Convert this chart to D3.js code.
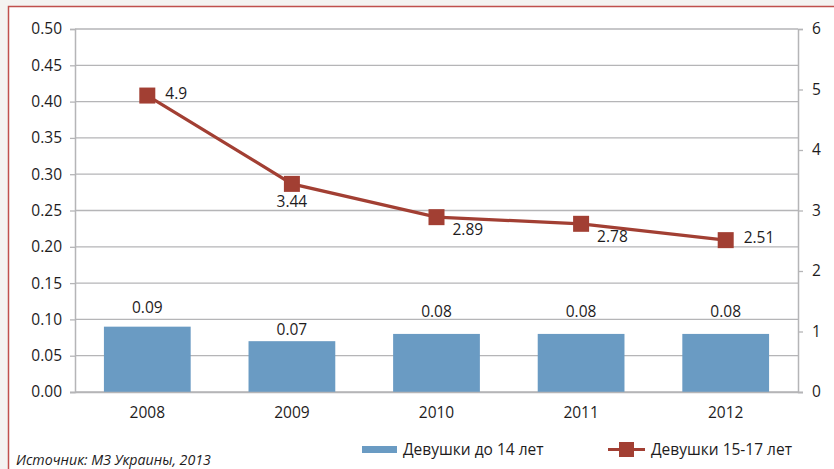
<!DOCTYPE html>
<html><head><meta charset="utf-8">
<script src="https://cdn.jsdelivr.net/npm/d3@7"></script>
<style>
html,body{margin:0;padding:0;background:#f4f3f1;}
svg{display:block;font-family:"Open Sans",sans-serif;}
</style></head>
<body><svg id="chart" width="834" height="469"></svg>
<script>
const categories = ["2008","2009","2010","2011","2012"];
const barValues = [0.09, 0.07, 0.08, 0.08, 0.08];
const lineValues = [4.9, 3.44, 2.89, 2.78, 2.51];
const barLabelGap = [14, 6, 17, 17, 17];
const lineLabelPlacement = ["right","below","belowRight","belowRight","right"];
const leftTicks = [0,0.05,0.10,0.15,0.20,0.25,0.30,0.35,0.40,0.45,0.50];
const rightTicks = [0,1,2,3,4,5,6];
const seriesNames = ["Девушки до 14 лет","Девушки 15-17 лет"];
const sourceText = "Источник: МЗ Украины, 2013";

const barColor = "#6a9bc3", lineColor = "#a23f33", gridColor = "#b5b5b7", textColor = "#1e1c1d";
const svg = d3.select("#chart");
// panel
svg.append("rect").attr("x",8).attr("y",6).attr("width",826).attr("height",463).attr("fill","#fff");
svg.append("path").attr("d","M8.5,469V6.5H834").attr("fill","none").attr("stroke","#c0504d").attr("stroke-width",1.5);

const m = {l:75, r:798, t:29, b:392};
const x = d3.scaleBand().domain(categories).range([m.l,m.r]).paddingInner(0.4).paddingOuter(0.2);
const yL = d3.scaleLinear().domain([0,0.5]).range([m.b,m.t]);
const yR = d3.scaleLinear().domain([0,6]).range([m.b,m.t]);

// gridlines
svg.append("g").selectAll("line").data(leftTicks).join("line")
  .attr("x1",m.l).attr("x2",m.r).attr("y1",d=>yL(d)).attr("y2",d=>yL(d))
  .attr("stroke",gridColor).attr("stroke-width",1.3);

// bars
svg.append("g").selectAll("rect").data(barValues).join("rect")
  .attr("x",(d,i)=>x(categories[i])).attr("width",x.bandwidth())
  .attr("y",d=>yL(d)).attr("height",d=>yL(0)-yL(d)).attr("fill",barColor);

// axes
const axL = d3.axisLeft(yL).tickValues(leftTicks).tickFormat(d3.format(".2f")).tickSize(5).tickPadding(8);
const gL = svg.append("g").attr("transform",`translate(${m.l},0)`).call(axL);
const axR = d3.axisRight(yR).tickValues(rightTicks).tickFormat(d3.format("d")).tickSize(5).tickPadding(9);
const gR = svg.append("g").attr("transform",`translate(${m.r},0)`).call(axR);
const axB = d3.axisBottom(x).tickSize(0).tickPadding(15);
const gB = svg.append("g").attr("transform",`translate(0,${m.b})`).call(axB);
[gL,gR,gB].forEach(g=>{
  g.select(".domain").attr("stroke",gridColor).attr("stroke-width",1.5);
  g.selectAll(".tick line").attr("stroke",gridColor).attr("stroke-width",1.3);
  g.selectAll("text").attr("fill",textColor).attr("font-size",15.5).attr("font-family","'Open Sans',sans-serif");
});
gB.select(".domain").attr("d",`M${m.l-5},0.5H${m.r+5}`);

// bar labels
svg.append("g").selectAll("text").data(barValues).join("text")
  .attr("x",(d,i)=>x(categories[i])+x.bandwidth()/2).attr("y",(d,i)=>yL(d)-barLabelGap[i])
  .attr("text-anchor","middle").attr("font-size",15.5).attr("fill",textColor)
  .text(d=>d3.format(".2f")(d));

// line
const cx = (i)=>x(categories[i])+x.bandwidth()/2;
svg.append("path").datum(lineValues)
  .attr("d",d3.line().x((d,i)=>cx(i)).y(d=>yR(d)))
  .attr("fill","none").attr("stroke",lineColor).attr("stroke-width",3.2);
const ms = 16;
svg.append("g").selectAll("rect").data(lineValues).join("rect")
  .attr("x",(d,i)=>cx(i)-ms/2).attr("y",d=>yR(d)-ms/2).attr("width",ms).attr("height",ms)
  .attr("fill",lineColor);
const off = {right:[18,3,"start"], below:[0,23,"middle"], belowRight:[16,18,"start"]};
svg.append("g").selectAll("text").data(lineValues).join("text")
  .attr("x",(d,i)=>cx(i)+off[lineLabelPlacement[i]][0])
  .attr("y",(d,i)=>yR(d)+off[lineLabelPlacement[i]][1])
  .attr("text-anchor",(d,i)=>off[lineLabelPlacement[i]][2])
  .attr("font-size",15.5).attr("fill",textColor).text(d=>String(d));

// legend
const lg = svg.append("g");
lg.append("rect").attr("x",362).attr("y",446).attr("width",35).attr("height",7).attr("fill",barColor);
lg.append("text").attr("x",403).attr("y",455).attr("font-size",15.5).attr("fill",textColor).text(seriesNames[0]);
lg.append("line").attr("x1",608).attr("x2",645).attr("y1",449.5).attr("y2",449.5).attr("stroke",lineColor).attr("stroke-width",3.2);
lg.append("rect").attr("x",619).attr("y",442).attr("width",15).attr("height",15).attr("fill",lineColor);
lg.append("text").attr("x",651).attr("y",455).attr("font-size",15.5).attr("fill",textColor).text(seriesNames[1]);

// source
svg.append("text").attr("x",16).attr("y",465).attr("font-size",14.2).attr("font-style","italic")
  .attr("fill",textColor).text(sourceText);
</script></body></html>
